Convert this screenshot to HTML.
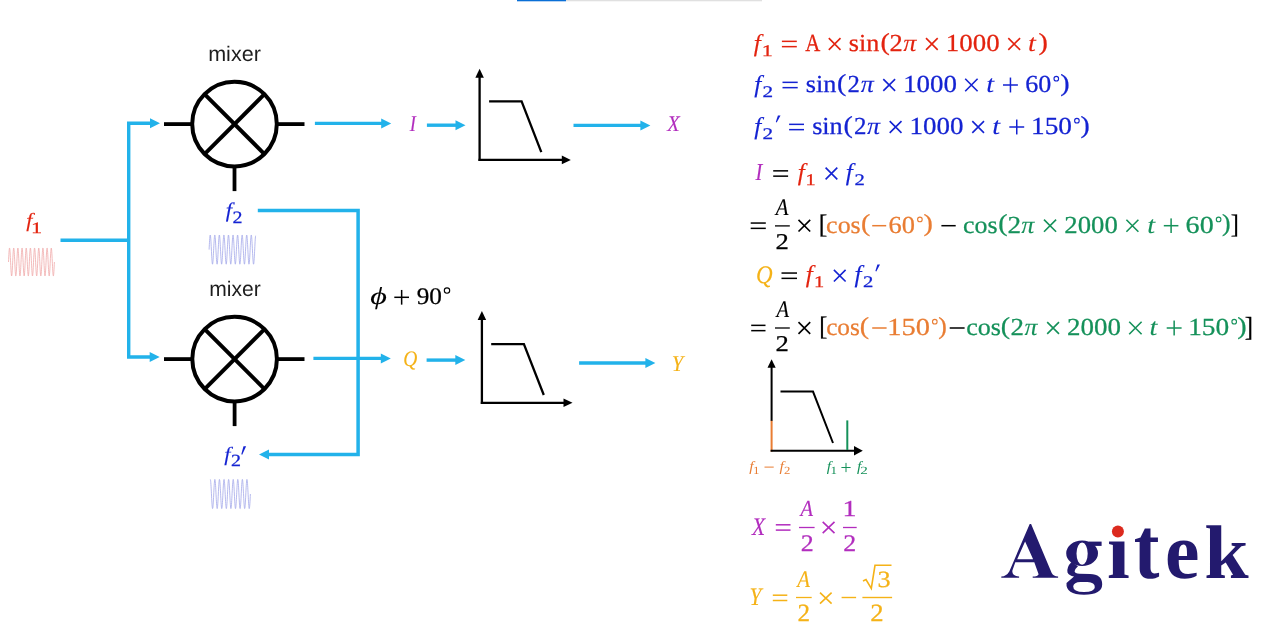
<!DOCTYPE html>
<html><head><meta charset="utf-8"><title>IQ demodulation</title>
<style>html,body{margin:0;padding:0;background:#fff;width:1267px;height:633px;overflow:hidden}svg{display:block;will-change:transform;text-rendering:geometricPrecision}</style>
</head><body>
<svg width="1267" height="633" viewBox="0 0 1267 633">
<rect width="1267" height="633" fill="#fff"/>
<rect x="517" y="0" width="49" height="1.3" fill="#0A6FD6"/>
<rect x="566" y="0" width="196" height="1.3" fill="#E0E0E0"/>
<polyline points="60.5,240.2 128.7,240.2" stroke="#22B2EA" stroke-width="3.4" fill="none"/>
<polyline points="151,123.2 128.7,123.2 128.7,357 151,357" stroke="#22B2EA" stroke-width="3.4" fill="none" stroke-linejoin="miter"/>
<polygon points="160,123.2 150,118.2 150,128.2" fill="#22B2EA"/>
<polygon points="159.7,357 149.7,352.0 149.7,362.0" fill="#22B2EA"/>
<line x1="314.9" y1="123.4" x2="382" y2="123.4" stroke="#22B2EA" stroke-width="3.4"/>
<polygon points="391.2,123.4 381.2,118.4 381.2,128.4" fill="#22B2EA"/>
<line x1="426.9" y1="125.2" x2="456" y2="125.2" stroke="#22B2EA" stroke-width="3.4"/>
<polygon points="465.5,125.2 455.5,120.2 455.5,130.2" fill="#22B2EA"/>
<line x1="573.5" y1="125.4" x2="641" y2="125.4" stroke="#22B2EA" stroke-width="3.4"/>
<polygon points="650.4,125.4 640.4,120.4 640.4,130.4" fill="#22B2EA"/>
<line x1="313.4" y1="358.4" x2="382" y2="358.4" stroke="#22B2EA" stroke-width="3.4"/>
<polygon points="390.8,358.4 380.8,353.4 380.8,363.4" fill="#22B2EA"/>
<line x1="426.6" y1="360.1" x2="456" y2="360.1" stroke="#22B2EA" stroke-width="3.4"/>
<polygon points="465.3,360.1 455.3,355.1 455.3,365.1" fill="#22B2EA"/>
<line x1="579.1" y1="363" x2="646" y2="363" stroke="#22B2EA" stroke-width="3.4"/>
<polygon points="655.4,363 645.4,358.0 645.4,368.0" fill="#22B2EA"/>
<polyline points="257.8,210.5 358.1,210.5 358.1,454.5 268,454.5" stroke="#22B2EA" stroke-width="3.5" fill="none"/>
<polygon points="259,454.5 269,449.5 269,459.5" fill="#22B2EA"/>
<circle cx="234.5" cy="124.1" r="42.3" stroke="#000" stroke-width="4" fill="none"/>
<line x1="204.3" y1="93.89999999999999" x2="264.7" y2="154.29999999999998" stroke="#000" stroke-width="4"/>
<line x1="204.3" y1="154.29999999999998" x2="264.7" y2="93.89999999999999" stroke="#000" stroke-width="4"/>
<line x1="164" y1="124.1" x2="192.5" y2="124.1" stroke="#000" stroke-width="3.8"/>
<line x1="276.5" y1="124.1" x2="304.5" y2="124.1" stroke="#000" stroke-width="3.8"/>
<line x1="234.5" y1="166.1" x2="234.5" y2="191.1" stroke="#000" stroke-width="3.8"/>
<circle cx="234.6" cy="359.1" r="42.3" stroke="#000" stroke-width="4" fill="none"/>
<line x1="204.4" y1="328.90000000000003" x2="264.8" y2="389.3" stroke="#000" stroke-width="4"/>
<line x1="204.4" y1="389.3" x2="264.8" y2="328.90000000000003" stroke="#000" stroke-width="4"/>
<line x1="164" y1="359.1" x2="192.6" y2="359.1" stroke="#000" stroke-width="3.8"/>
<line x1="276.6" y1="359.1" x2="304.5" y2="359.1" stroke="#000" stroke-width="3.8"/>
<line x1="234.6" y1="401.1" x2="234.6" y2="426.1" stroke="#000" stroke-width="3.8"/>
<line x1="479.6" y1="76.7" x2="479.6" y2="161.0" stroke="#000" stroke-width="2.3"/>
<polygon points="479.6,68.7 475.35,77.7 483.85,77.7" fill="#000"/>
<line x1="478.5" y1="159.9" x2="562.8" y2="159.9" stroke="#000" stroke-width="2.3"/>
<polygon points="570.8,159.9 561.8,155.6 561.8,164.20000000000002" fill="#000"/>
<polyline points="489.1,101.3 521.6,101.3 541.3,152.1" stroke="#000" stroke-width="2.3" fill="none"/>
<line x1="481.9" y1="319" x2="481.9" y2="403.90000000000003" stroke="#000" stroke-width="2.3"/>
<polygon points="481.9,311 477.65,320 486.15,320" fill="#000"/>
<line x1="480.79999999999995" y1="402.8" x2="564.5" y2="402.8" stroke="#000" stroke-width="2.3"/>
<polygon points="572.5,402.8 563.5,398.5 563.5,407.1" fill="#000"/>
<polyline points="491.2,344.2 523.9,344.2 543.8,395" stroke="#000" stroke-width="2.3" fill="none"/>
<polyline points="8.50,262.00 8.63,259.38 8.75,256.85 8.88,254.50 9.00,252.42 9.13,250.68 9.25,249.34 9.38,248.44 9.50,248.03 9.63,248.11 9.75,248.68 9.88,249.72 10.00,251.19 10.13,253.05 10.25,255.23 10.38,257.64 10.50,260.21 10.63,262.84 10.75,265.44 10.88,267.92 11.00,270.19 11.13,272.17 11.25,273.79 11.38,275.00 11.50,275.74 11.63,276.00 11.75,275.76 11.88,275.04 12.00,273.86 12.13,272.25 12.25,270.29 12.38,268.03 12.50,265.56 12.63,262.96 12.75,260.33 12.88,257.75 13.00,255.33 13.13,253.14 13.25,251.27 13.38,249.78 13.50,248.72 13.63,248.12 13.75,248.02 13.88,248.41 14.00,249.29 14.13,250.61 14.25,252.34 14.38,254.40 14.50,256.74 14.63,259.26 14.75,261.88 14.88,264.50 15.00,267.04 15.13,269.39 15.25,271.49 15.38,273.25 15.50,274.61 15.63,275.53 15.75,275.96 15.88,275.91 16.00,275.36 16.13,274.34 16.25,272.88 16.38,271.04 16.50,268.88 16.63,266.47 16.75,263.91 16.88,261.28 17.00,258.68 17.13,256.19 17.25,253.91 17.38,251.91 17.50,250.27 17.63,249.05 17.76,248.28 17.88,248.00 18.01,248.22 18.13,248.92 18.26,250.08 18.38,251.67 18.51,253.62 18.63,255.86 18.76,258.33 18.88,260.92 19.01,263.55 19.13,266.13 19.26,268.56 19.38,270.76 19.51,272.65 19.63,274.16 19.76,275.25 19.88,275.86 20.01,275.98 20.13,275.61 20.26,274.76 20.38,273.46 20.51,271.75 20.63,269.70 20.76,267.37 20.88,264.86 21.01,262.24 21.13,259.61 21.26,257.07 21.38,254.71 21.51,252.60 21.63,250.82 21.76,249.44 21.88,248.51 22.01,248.05 22.13,248.08 22.26,248.61 22.38,249.61 22.51,251.04 22.63,252.87 22.76,255.02 22.88,257.41 23.01,259.97 23.13,262.60 23.26,265.21 23.38,267.70 23.51,269.99 23.63,272.00 23.76,273.66 23.88,274.91 24.01,275.69 24.13,276.00 24.26,275.81 24.38,275.13 24.51,273.98 24.63,272.41 24.76,270.48 24.88,268.24 25.01,265.79 25.13,263.20 25.26,260.56 25.38,257.98 25.51,255.54 25.63,253.33 25.76,251.43 25.88,249.90 26.01,248.79 26.13,248.16 26.26,248.01 26.38,248.36 26.51,249.19 26.63,250.47 26.76,252.16 26.89,254.20 27.01,256.52 27.14,259.03 27.26,261.64 27.39,264.27 27.51,266.81 27.64,269.19 27.76,271.31 27.89,273.10 28.01,274.50 28.14,275.46 28.26,275.94 28.39,275.93 28.51,275.43 28.64,274.45 28.76,273.03 28.89,271.22 29.01,269.09 29.14,266.70 29.26,264.15 29.39,261.52 29.51,258.91 29.64,256.41 29.76,254.10 29.89,252.08 30.01,250.41 30.14,249.14 30.26,248.33 30.39,248.01 30.51,248.18 30.64,248.83 30.76,249.96 30.89,251.51 31.01,253.43 31.14,255.65 31.26,258.10 31.39,260.68 31.51,263.32 31.64,265.90 31.76,268.35 31.89,270.57 32.01,272.49 32.14,274.04 32.26,275.17 32.39,275.82 32.51,275.99 32.64,275.67 32.76,274.86 32.89,273.59 33.01,271.92 33.14,269.90 33.26,267.59 33.39,265.09 33.51,262.48 33.64,259.85 33.76,257.30 33.89,254.91 34.01,252.78 34.14,250.97 34.26,249.55 34.39,248.57 34.51,248.07 34.64,248.06 34.76,248.54 34.89,249.50 35.01,250.90 35.14,252.69 35.26,254.81 35.39,257.19 35.51,259.73 35.64,262.36 35.76,264.97 35.89,267.48 36.01,269.80 36.14,271.84 36.27,273.53 36.39,274.81 36.52,275.64 36.64,275.99 36.77,275.84 36.89,275.21 37.02,274.10 37.14,272.57 37.27,270.67 37.39,268.46 37.52,266.02 37.64,263.44 37.77,260.80 37.89,258.21 38.02,255.76 38.14,253.52 38.27,251.59 38.39,250.02 38.52,248.87 38.64,248.19 38.77,248.00 38.89,248.31 39.02,249.09 39.14,250.34 39.27,252.00 39.39,254.01 39.52,256.30 39.64,258.79 39.77,261.40 39.89,264.03 40.02,266.59 40.14,268.98 40.27,271.13 40.39,272.96 40.52,274.39 40.64,275.39 40.77,275.92 40.89,275.95 41.02,275.49 41.14,274.56 41.27,273.18 41.39,271.40 41.52,269.29 41.64,266.93 41.77,264.39 41.89,261.76 42.02,259.14 42.14,256.63 42.27,254.30 42.39,252.25 42.52,250.54 42.64,249.24 42.77,248.39 42.89,248.02 43.02,248.14 43.14,248.75 43.27,249.84 43.39,251.35 43.52,253.24 43.64,255.44 43.77,257.87 43.89,260.45 44.02,263.08 44.14,265.67 44.27,268.14 44.39,270.38 44.52,272.33 44.64,273.92 44.77,275.08 44.89,275.78 45.02,276.00 45.14,275.72 45.27,274.95 45.40,273.73 45.52,272.09 45.65,270.09 45.77,267.81 45.90,265.32 46.02,262.72 46.15,260.09 46.27,257.53 46.40,255.12 46.52,252.96 46.65,251.12 46.77,249.66 46.90,248.64 47.02,248.09 47.15,248.04 47.27,248.47 47.40,249.39 47.52,250.75 47.65,252.51 47.77,254.61 47.90,256.96 48.02,259.50 48.15,262.12 48.27,264.74 48.40,267.26 48.52,269.60 48.65,271.66 48.77,273.39 48.90,274.71 49.02,275.59 49.15,275.98 49.27,275.88 49.40,275.28 49.52,274.22 49.65,272.73 49.77,270.86 49.90,268.67 50.02,266.25 50.15,263.67 50.27,261.04 50.40,258.44 50.52,255.97 50.65,253.71 50.77,251.75 50.90,250.14 51.02,248.96 51.15,248.24 51.27,248.00 51.40,248.26 51.52,249.00 51.65,250.21 51.77,251.83 51.90,253.81 52.02,256.08 52.15,258.56 52.27,261.16 52.40,263.79 52.52,266.36 52.65,268.77 52.77,270.95 52.90,272.81 53.02,274.28 53.15,275.32 53.27,275.89 53.40,275.97 53.52,275.56 53.65,274.66 53.77,273.32 53.90,271.58 54.02,269.50 54.15,267.15 54.27,264.62 54.40,262.00" stroke="#F0AAAA" stroke-width="0.8" fill="none"/>
<polyline points="209.10,249.60 209.22,247.10 209.35,244.67 209.47,242.39 209.60,240.32 209.72,238.52 209.85,237.06 209.97,235.96 210.10,235.27 210.22,235.00 210.35,235.17 210.47,235.76 210.60,236.76 210.72,238.15 210.85,239.87 210.97,241.88 211.10,244.12 211.22,246.52 211.35,249.01 211.47,251.52 211.60,253.97 211.72,256.29 211.85,258.42 211.97,260.28 212.10,261.83 212.22,263.02 212.35,263.81 212.47,264.17 212.60,264.11 212.72,263.62 212.85,262.71 212.97,261.41 213.10,259.77 213.22,257.82 213.35,255.63 213.47,253.26 213.60,250.78 213.72,248.27 213.85,245.80 213.97,243.44 214.10,241.26 214.22,239.33 214.35,237.70 214.47,236.43 214.60,235.54 214.72,235.07 214.85,235.04 214.97,235.43 215.10,236.24 215.22,237.45 215.35,239.02 215.47,240.90 215.60,243.04 215.72,245.37 215.85,247.83 215.97,250.34 216.10,252.83 216.22,255.22 216.35,257.45 216.47,259.44 216.60,261.15 216.72,262.51 216.85,263.49 216.97,264.05 217.10,264.19 217.22,263.90 217.35,263.19 217.47,262.07 217.60,260.58 217.72,258.77 217.85,256.69 217.97,254.39 218.10,251.96 218.22,249.45 218.35,246.95 218.47,244.53 218.60,242.26 218.72,240.20 218.85,238.43 218.97,236.98 219.10,235.91 219.22,235.24 219.35,235.00 219.47,235.19 219.60,235.81 219.72,236.83 219.85,238.24 219.97,239.98 220.10,242.00 220.22,244.25 220.35,246.66 220.47,249.16 220.60,251.66 220.72,254.11 220.85,256.43 220.97,258.54 221.10,260.38 221.22,261.91 221.35,263.07 221.47,263.84 221.60,264.18 221.72,264.09 221.85,263.57 221.97,262.64 222.10,261.32 222.22,259.66 222.35,257.70 222.47,255.49 222.60,253.12 222.72,250.63 222.85,248.12 222.97,245.65 223.10,243.30 223.22,241.14 223.35,239.22 223.47,237.62 223.60,236.36 223.72,235.50 223.85,235.06 223.97,235.05 224.10,235.47 224.22,236.30 224.35,237.53 224.47,239.12 224.60,241.02 224.72,243.17 224.85,245.51 224.97,247.98 225.10,250.49 225.22,252.97 225.35,255.36 225.47,257.57 225.60,259.55 225.72,261.24 225.85,262.57 225.97,263.53 226.10,264.07 226.22,264.19 226.35,263.87 226.47,263.13 226.60,261.99 226.72,260.48 226.85,258.65 226.97,256.56 227.10,254.25 227.22,251.81 227.35,249.30 227.47,246.81 227.60,244.39 227.72,242.13 227.85,240.09 227.97,238.33 228.10,236.91 228.22,235.86 228.35,235.22 228.47,235.00 228.60,235.22 228.72,235.86 228.85,236.91 228.97,238.33 229.10,240.09 229.22,242.13 229.35,244.39 229.47,246.81 229.60,249.30 229.72,251.81 229.85,254.25 229.97,256.56 230.10,258.65 230.22,260.48 230.35,261.99 230.47,263.13 230.60,263.87 230.72,264.19 230.85,264.07 230.97,263.53 231.10,262.57 231.22,261.24 231.35,259.55 231.47,257.57 231.60,255.36 231.72,252.97 231.85,250.49 231.97,247.98 232.10,245.51 232.22,243.17 232.35,241.02 232.47,239.12 232.60,237.53 232.72,236.30 232.85,235.47 232.97,235.05 233.10,235.06 233.22,235.50 233.35,236.36 233.47,237.62 233.60,239.22 233.72,241.14 233.85,243.30 233.97,245.65 234.10,248.12 234.22,250.63 234.35,253.12 234.47,255.49 234.60,257.70 234.72,259.66 234.85,261.32 234.97,262.64 235.10,263.57 235.22,264.09 235.35,264.18 235.47,263.84 235.60,263.07 235.72,261.91 235.85,260.38 235.97,258.54 236.10,256.43 236.22,254.11 236.35,251.66 236.47,249.16 236.60,246.66 236.72,244.25 236.85,242.00 236.97,239.98 237.10,238.24 237.22,236.83 237.35,235.81 237.47,235.19 237.60,235.00 237.72,235.24 237.85,235.91 237.97,236.98 238.10,238.43 238.22,240.20 238.35,242.26 238.47,244.53 238.60,246.95 238.72,249.45 238.85,251.96 238.97,254.39 239.10,256.69 239.22,258.77 239.35,260.58 239.47,262.07 239.60,263.19 239.72,263.90 239.85,264.19 239.97,264.05 240.10,263.49 240.22,262.51 240.35,261.15 240.47,259.44 240.60,257.45 240.72,255.22 240.85,252.83 240.97,250.34 241.10,247.83 241.22,245.37 241.35,243.04 241.47,240.90 241.60,239.02 241.72,237.45 241.85,236.24 241.97,235.43 242.10,235.04 242.22,235.07 242.35,235.54 242.47,236.43 242.60,237.70 242.72,239.33 242.85,241.26 242.97,243.44 243.10,245.80 243.22,248.27 243.35,250.78 243.47,253.26 243.60,255.63 243.72,257.82 243.85,259.77 243.97,261.41 244.10,262.71 244.22,263.62 244.35,264.11 244.47,264.17 244.60,263.81 244.72,263.02 244.85,261.83 244.97,260.28 245.10,258.42 245.22,256.29 245.35,253.97 245.47,251.52 245.60,249.01 245.72,246.52 245.85,244.12 245.97,241.88 246.10,239.87 246.22,238.15 246.35,236.76 246.47,235.76 246.60,235.17 246.72,235.00 246.85,235.27 246.97,235.96 247.10,237.06 247.22,238.52 247.35,240.32 247.47,242.39 247.60,244.67 247.72,247.10 247.85,249.60 247.97,252.10 248.10,254.53 248.22,256.81 248.35,258.88 248.47,260.68 248.60,262.14 248.72,263.24 248.85,263.93 248.97,264.20 249.10,264.03 249.22,263.44 249.35,262.44 249.47,261.05 249.60,259.33 249.72,257.32 249.85,255.08 249.97,252.68 250.10,250.19 250.22,247.68 250.35,245.23 250.47,242.91 250.60,240.78 250.72,238.92 250.85,237.37 250.97,236.18 251.10,235.39 251.22,235.03 251.35,235.09 251.47,235.58 251.60,236.49 251.72,237.79 251.85,239.43 251.97,241.38 252.10,243.57 252.22,245.94 252.35,248.42 252.47,250.93 252.60,253.40 252.72,255.76 252.85,257.94 252.97,259.87 253.10,261.50 253.22,262.77 253.35,263.66 253.47,264.13 253.60,264.16 253.72,263.77 253.85,262.96 253.97,261.75 254.10,260.18 254.22,258.30 254.35,256.16 254.47,253.83 254.60,251.37 254.72,248.86 254.85,246.37 254.97,243.98 255.10,241.75 255.22,239.76 255.35,238.05 255.47,236.69 255.60,235.71" stroke="#A3A8EA" stroke-width="0.8" fill="none"/>
<polyline points="210.30,479.40 210.43,479.61 210.55,480.25 210.68,481.30 210.80,482.71 210.93,484.46 211.05,486.49 211.18,488.75 211.30,491.15 211.43,493.64 211.55,496.14 211.68,498.58 211.80,500.88 211.93,502.98 212.05,504.82 212.18,506.33 212.31,507.49 212.43,508.25 212.56,508.58 212.68,508.49 212.81,507.97 212.93,507.04 213.06,505.73 213.18,504.07 213.31,502.11 213.43,499.92 213.56,497.55 213.68,495.07 213.81,492.57 213.93,490.11 214.06,487.76 214.18,485.59 214.31,483.68 214.44,482.06 214.56,480.80 214.69,479.93 214.81,479.47 214.94,479.44 215.06,479.84 215.19,480.65 215.31,481.86 215.44,483.43 215.56,485.30 215.69,487.44 215.81,489.76 215.94,492.21 216.06,494.72 216.19,497.20 216.31,499.59 216.44,501.81 216.57,503.80 216.69,505.51 216.82,506.88 216.94,507.86 217.07,508.44 217.19,508.60 217.32,508.32 217.44,507.62 217.57,506.52 217.69,505.06 217.82,503.26 217.94,501.20 218.07,498.92 218.19,496.50 218.32,494.00 218.45,491.50 218.57,489.08 218.70,486.80 218.82,484.74 218.95,482.94 219.07,481.48 219.20,480.38 219.32,479.68 219.45,479.40 219.57,479.56 219.70,480.14 219.82,481.12 219.95,482.49 220.07,484.20 220.20,486.19 220.33,488.41 220.45,490.80 220.58,493.28 220.70,495.79 220.83,498.24 220.95,500.56 221.08,502.70 221.20,504.57 221.33,506.14 221.45,507.35 221.58,508.16 221.70,508.56 221.83,508.53 221.95,508.07 222.08,507.20 222.20,505.94 222.33,504.32 222.46,502.41 222.58,500.24 222.71,497.89 222.83,495.43 222.96,492.93 223.08,490.45 223.21,488.08 223.33,485.89 223.46,483.93 223.58,482.27 223.71,480.96 223.83,480.03 223.96,479.51 224.08,479.42 224.21,479.75 224.34,480.51 224.46,481.67 224.59,483.18 224.71,485.02 224.84,487.12 224.96,489.42 225.09,491.86 225.21,494.36 225.34,496.85 225.46,499.25 225.59,501.51 225.71,503.54 225.84,505.29 225.96,506.70 226.09,507.75 226.21,508.39 226.34,508.60 226.47,508.39 226.59,507.75 226.72,506.70 226.84,505.29 226.97,503.54 227.09,501.51 227.22,499.25 227.34,496.85 227.47,494.36 227.59,491.86 227.72,489.42 227.84,487.12 227.97,485.02 228.09,483.18 228.22,481.67 228.34,480.51 228.47,479.75 228.60,479.42 228.72,479.51 228.85,480.03 228.97,480.96 229.10,482.27 229.22,483.93 229.35,485.89 229.47,488.08 229.60,490.45 229.72,492.93 229.85,495.43 229.97,497.89 230.10,500.24 230.22,502.41 230.35,504.32 230.48,505.94 230.60,507.20 230.73,508.07 230.85,508.53 230.98,508.56 231.10,508.16 231.23,507.35 231.35,506.14 231.48,504.57 231.60,502.70 231.73,500.56 231.85,498.24 231.98,495.79 232.10,493.28 232.23,490.80 232.36,488.41 232.48,486.19 232.61,484.20 232.73,482.49 232.86,481.12 232.98,480.14 233.11,479.56 233.23,479.40 233.36,479.68 233.48,480.38 233.61,481.48 233.73,482.94 233.86,484.74 233.98,486.80 234.11,489.08 234.23,491.50 234.36,494.00 234.49,496.50 234.61,498.92 234.74,501.20 234.86,503.26 234.99,505.06 235.11,506.52 235.24,507.62 235.36,508.32 235.49,508.60 235.61,508.44 235.74,507.86 235.86,506.88 235.99,505.51 236.11,503.80 236.24,501.81 236.37,499.59 236.49,497.20 236.62,494.72 236.74,492.21 236.87,489.76 236.99,487.44 237.12,485.30 237.24,483.43 237.37,481.86 237.49,480.65 237.62,479.84 237.74,479.44 237.87,479.47 237.99,479.93 238.12,480.80 238.24,482.06 238.37,483.68 238.50,485.59 238.62,487.76 238.75,490.11 238.87,492.57 239.00,495.07 239.12,497.55 239.25,499.92 239.37,502.11 239.50,504.07 239.62,505.73 239.75,507.04 239.87,507.97 240.00,508.49 240.12,508.58 240.25,508.25 240.38,507.49 240.50,506.33 240.63,504.82 240.75,502.98 240.88,500.88 241.00,498.58 241.13,496.14 241.25,493.64 241.38,491.15 241.50,488.75 241.63,486.49 241.75,484.46 241.88,482.71 242.00,481.30 242.13,480.25 242.25,479.61 242.38,479.40 242.51,479.61 242.63,480.25 242.76,481.30 242.88,482.71 243.01,484.46 243.13,486.49 243.26,488.75 243.38,491.15 243.51,493.64 243.63,496.14 243.76,498.58 243.88,500.88 244.01,502.98 244.13,504.82 244.26,506.33 244.38,507.49 244.51,508.25 244.64,508.58 244.76,508.49 244.89,507.97 245.01,507.04 245.14,505.73 245.26,504.07 245.39,502.11 245.51,499.92 245.64,497.55 245.76,495.07 245.89,492.57 246.01,490.11 246.14,487.76 246.26,485.59 246.39,483.68 246.52,482.06 246.64,480.80 246.77,479.93 246.89,479.47 247.02,479.44 247.14,479.84 247.27,480.65 247.39,481.86 247.52,483.43 247.64,485.30 247.77,487.44 247.89,489.76 248.02,492.21 248.14,494.72 248.27,497.20 248.40,499.59 248.52,501.81 248.65,503.80 248.77,505.51 248.90,506.88 249.02,507.86 249.15,508.44 249.27,508.60 249.40,508.32 249.52,507.62 249.65,506.52 249.77,505.06 249.90,503.26 250.02,501.20 250.15,498.92 250.27,496.50 250.40,494.00" stroke="#A3A8EA" stroke-width="0.8" fill="none"/>
<text transform="translate(208.17,60.60) scale(1.017,1)" font-family='"Liberation Sans", sans-serif' font-style="normal" font-weight="normal" font-size="21.20" fill="#1E1E1E" >mixer</text>
<text transform="translate(209.30,296.00) scale(0.995,1)" font-family='"Liberation Sans", sans-serif' font-style="normal" font-weight="normal" font-size="21.20" fill="#1E1E1E" >mixer</text>
<text transform="translate(26.26,227.21) scale(1.100,1)" font-family='"Liberation Serif", serif' font-style="italic" font-weight="normal" font-size="20.17" fill="#E3230F" stroke="#E3230F" stroke-width="0.12" >f</text>
<text transform="translate(31.04,232.50) scale(1.400,1)" font-family='"Liberation Serif", serif' font-style="normal" font-weight="normal" font-size="15.91" fill="#E3230F" stroke="#E3230F" stroke-width="0.25" >1</text>
<text transform="translate(225.74,216.59) scale(1.100,1)" font-family='"Liberation Serif", serif' font-style="italic" font-weight="normal" font-size="20.72" fill="#1423D2" stroke="#1423D2" stroke-width="0.12" >f</text>
<text transform="translate(232.62,222.50) scale(1.149,1)" font-family='"Liberation Serif", serif' font-style="normal" font-weight="normal" font-size="17.37" fill="#1423D2" stroke="#1423D2" stroke-width="0.25" >2</text>
<text transform="translate(224.24,460.68) scale(1.100,1)" font-family='"Liberation Serif", serif' font-style="italic" font-weight="normal" font-size="20.28" fill="#1423D2" stroke="#1423D2" stroke-width="0.12" >f</text>
<text transform="translate(231.12,466.30) scale(1.169,1)" font-family='"Liberation Serif", serif' font-style="normal" font-weight="normal" font-size="17.07" fill="#1423D2" stroke="#1423D2" stroke-width="0.25" >2</text>
<text transform="translate(409.87,130.60) scale(0.824,1)" font-family='"Liberation Serif", serif' font-style="italic" font-weight="normal" font-size="22.60" fill="#B22DBE" stroke="#B22DBE" stroke-width="0.12" >I</text>
<text transform="translate(667.28,130.70) scale(0.909,1)" font-family='"Liberation Serif", serif' font-style="italic" font-weight="normal" font-size="22.45" fill="#B22DBE" stroke="#B22DBE" stroke-width="0.12" >X</text>
<text transform="translate(403.13,365.92) scale(0.880,1)" font-family='"Liberation Serif", serif' font-style="italic" font-weight="normal" font-size="22.08" fill="#F5B217" stroke="#F5B217" stroke-width="0.12" >Q</text>
<text transform="translate(671.81,371.20) scale(0.918,1)" font-family='"Liberation Serif", serif' font-style="italic" font-weight="normal" font-size="22.60" fill="#F5B217" stroke="#F5B217" stroke-width="0.12" >Y</text>
<text transform="translate(370.16,303.81) scale(1.315,1)" font-family='"Liberation Serif", serif' font-style="italic" font-weight="normal" font-size="24.37" fill="#000" stroke="#000" stroke-width="0.12" >ϕ</text>
<text transform="translate(416.69,303.67) scale(1.059,1)" font-family='"Liberation Serif", serif' font-style="normal" font-weight="normal" font-size="23.86" fill="#000" stroke="#000" stroke-width="0.25" >90</text>
<text transform="translate(753.83,50.67) scale(1.050,1)" font-family='"Liberation Serif", serif' font-style="italic" font-weight="normal" font-size="24.10" fill="#E3230F" stroke="#E3230F" stroke-width="0.12" >f</text>
<text transform="translate(761.75,55.70) scale(1.367,1)" font-family='"Liberation Serif", serif' font-style="normal" font-weight="normal" font-size="16.21" fill="#E3230F" stroke="#E3230F" stroke-width="0.25" >1</text>
<rect x="781.90" y="40.60" width="14.90" height="1.5" fill="#E3230F"/>
<rect x="781.90" y="45.90" width="14.90" height="1.5" fill="#E3230F"/>
<text transform="translate(805.20,50.80) scale(0.851,1)" font-family='"Liberation Serif", serif' font-style="normal" font-weight="normal" font-size="24.50" fill="#E3230F" stroke="#E3230F" stroke-width="0.25" >A</text>
<path d="M828.80,38.15L840.50,49.85M828.80,49.85L840.50,38.15" stroke="#E3230F" stroke-width="1.6" fill="none"/>
<text transform="translate(848.73,50.80) scale(1.066,1)" font-family='"Liberation Serif", serif' font-style="normal" font-weight="normal" font-size="24.50" fill="#E3230F" stroke="#E3230F" stroke-width="0.25" >sin</text>
<text transform="translate(880.47,49.51) scale(1.150,1)" font-family='"Liberation Serif", serif' font-style="normal" font-weight="normal" font-size="24.37" fill="#E3230F" stroke="#E3230F" stroke-width="0.25" >(</text>
<text transform="translate(889.54,50.80) scale(1.079,1)" font-family='"Liberation Serif", serif' font-style="normal" font-weight="normal" font-size="24.50" fill="#E3230F" stroke="#E3230F" stroke-width="0.25" >2</text>
<text transform="translate(903.26,50.80) scale(1.070,1)" font-family='"Liberation Serif", serif' font-style="italic" font-weight="normal" font-size="24.50" fill="#E3230F" stroke="#E3230F" stroke-width="0.12" >π</text>
<path d="M926.00,38.15L937.70,49.85M926.00,49.85L937.70,38.15" stroke="#E3230F" stroke-width="1.6" fill="none"/>
<text transform="translate(945.84,50.80) scale(1.098,1)" font-family='"Liberation Serif", serif' font-style="normal" font-weight="normal" font-size="24.50" fill="#E3230F" stroke="#E3230F" stroke-width="0.25" >1000</text>
<path d="M1008.30,38.10L1020.10,49.90M1008.30,49.90L1020.10,38.10" stroke="#E3230F" stroke-width="1.6" fill="none"/>
<text transform="translate(1027.88,50.80) scale(1.150,1)" font-family='"Liberation Serif", serif' font-style="italic" font-weight="normal" font-size="24.50" fill="#E3230F" stroke="#E3230F" stroke-width="0.12" >t</text>
<text transform="translate(1038.45,49.51) scale(1.150,1)" font-family='"Liberation Serif", serif' font-style="normal" font-weight="normal" font-size="24.37" fill="#E3230F" stroke="#E3230F" stroke-width="0.25" >)</text>
<text transform="translate(754.13,91.67) scale(1.050,1)" font-family='"Liberation Serif", serif' font-style="italic" font-weight="normal" font-size="24.10" fill="#1423D2" stroke="#1423D2" stroke-width="0.12" >f</text>
<text transform="translate(762.57,96.70) scale(1.312,1)" font-family='"Liberation Serif", serif' font-style="normal" font-weight="normal" font-size="16.16" fill="#1423D2" stroke="#1423D2" stroke-width="0.25" >2</text>
<rect x="782.50" y="81.60" width="15.20" height="1.5" fill="#1423D2"/>
<rect x="782.50" y="86.90" width="15.20" height="1.5" fill="#1423D2"/>
<text transform="translate(805.73,91.80) scale(1.069,1)" font-family='"Liberation Serif", serif' font-style="normal" font-weight="normal" font-size="24.50" fill="#1423D2" stroke="#1423D2" stroke-width="0.25" >sin</text>
<text transform="translate(837.12,90.51) scale(1.150,1)" font-family='"Liberation Serif", serif' font-style="normal" font-weight="normal" font-size="24.37" fill="#1423D2" stroke="#1423D2" stroke-width="0.25" >(</text>
<text transform="translate(847.61,91.80) scale(1.008,1)" font-family='"Liberation Serif", serif' font-style="normal" font-weight="normal" font-size="24.50" fill="#1423D2" stroke="#1423D2" stroke-width="0.25" >2</text>
<text transform="translate(860.66,91.80) scale(1.063,1)" font-family='"Liberation Serif", serif' font-style="italic" font-weight="normal" font-size="24.50" fill="#1423D2" stroke="#1423D2" stroke-width="0.12" >π</text>
<path d="M883.30,79.10L895.10,90.90M883.30,90.90L895.10,79.10" stroke="#1423D2" stroke-width="1.6" fill="none"/>
<text transform="translate(903.13,91.80) scale(1.100,1)" font-family='"Liberation Serif", serif' font-style="normal" font-weight="normal" font-size="24.50" fill="#1423D2" stroke="#1423D2" stroke-width="0.25" >1000</text>
<path d="M965.20,78.80L977.60,91.20M965.20,91.20L977.60,78.80" stroke="#1423D2" stroke-width="1.6" fill="none"/>
<text transform="translate(986.18,91.80) scale(1.150,1)" font-family='"Liberation Serif", serif' font-style="italic" font-weight="normal" font-size="24.50" fill="#1423D2" stroke="#1423D2" stroke-width="0.12" >t</text>
<rect x="1003.00" y="84.25" width="14.90" height="1.5" fill="#1423D2"/>
<rect x="1009.70" y="77.55" width="1.5" height="14.90" fill="#1423D2"/>
<text transform="translate(1025.18,91.80) scale(1.066,1)" font-family='"Liberation Serif", serif' font-style="normal" font-weight="normal" font-size="24.50" fill="#1423D2" stroke="#1423D2" stroke-width="0.25" >60</text>
<circle cx="1056.30" cy="78.70" r="2.3" stroke="#1423D2" stroke-width="1.1" fill="none"/>
<text transform="translate(1060.30,90.51) scale(1.150,1)" font-family='"Liberation Serif", serif' font-style="normal" font-weight="normal" font-size="24.37" fill="#1423D2" stroke="#1423D2" stroke-width="0.25" >)</text>
<text transform="translate(754.13,133.67) scale(1.050,1)" font-family='"Liberation Serif", serif' font-style="italic" font-weight="normal" font-size="24.10" fill="#1423D2" stroke="#1423D2" stroke-width="0.12" >f</text>
<text transform="translate(762.57,138.70) scale(1.312,1)" font-family='"Liberation Serif", serif' font-style="normal" font-weight="normal" font-size="16.16" fill="#1423D2" stroke="#1423D2" stroke-width="0.25" >2</text>
<polygon points="777.90,115.50 780.50,115.50 776.70,122.50 775.80,121.90" fill="#1423D2"/>
<rect x="789.10" y="123.60" width="14.90" height="1.5" fill="#1423D2"/>
<rect x="789.10" y="128.90" width="14.90" height="1.5" fill="#1423D2"/>
<text transform="translate(812.13,133.80) scale(1.069,1)" font-family='"Liberation Serif", serif' font-style="normal" font-weight="normal" font-size="24.50" fill="#1423D2" stroke="#1423D2" stroke-width="0.25" >sin</text>
<text transform="translate(843.52,132.51) scale(1.150,1)" font-family='"Liberation Serif", serif' font-style="normal" font-weight="normal" font-size="24.37" fill="#1423D2" stroke="#1423D2" stroke-width="0.25" >(</text>
<text transform="translate(853.90,133.80) scale(1.018,1)" font-family='"Liberation Serif", serif' font-style="normal" font-weight="normal" font-size="24.50" fill="#1423D2" stroke="#1423D2" stroke-width="0.25" >2</text>
<text transform="translate(867.06,133.80) scale(1.063,1)" font-family='"Liberation Serif", serif' font-style="italic" font-weight="normal" font-size="24.50" fill="#1423D2" stroke="#1423D2" stroke-width="0.12" >π</text>
<path d="M889.70,121.10L901.50,132.90M889.70,132.90L901.50,121.10" stroke="#1423D2" stroke-width="1.6" fill="none"/>
<text transform="translate(909.43,133.80) scale(1.102,1)" font-family='"Liberation Serif", serif' font-style="normal" font-weight="normal" font-size="24.50" fill="#1423D2" stroke="#1423D2" stroke-width="0.25" >1000</text>
<path d="M972.30,121.15L984.00,132.85M972.30,132.85L984.00,121.15" stroke="#1423D2" stroke-width="1.6" fill="none"/>
<text transform="translate(992.18,133.80) scale(1.150,1)" font-family='"Liberation Serif", serif' font-style="italic" font-weight="normal" font-size="24.50" fill="#1423D2" stroke="#1423D2" stroke-width="0.12" >t</text>
<rect x="1009.30" y="126.25" width="14.90" height="1.5" fill="#1423D2"/>
<rect x="1016.00" y="119.55" width="1.5" height="14.90" fill="#1423D2"/>
<text transform="translate(1031.00,133.80) scale(1.114,1)" font-family='"Liberation Serif", serif' font-style="normal" font-weight="normal" font-size="24.50" fill="#1423D2" stroke="#1423D2" stroke-width="0.25" >150</text>
<circle cx="1076.90" cy="120.70" r="2.3" stroke="#1423D2" stroke-width="1.1" fill="none"/>
<text transform="translate(1080.61,132.51) scale(1.134,1)" font-family='"Liberation Serif", serif' font-style="normal" font-weight="normal" font-size="24.37" fill="#1423D2" stroke="#1423D2" stroke-width="0.25" >)</text>
<text transform="translate(755.58,180.40) scale(0.838,1)" font-family='"Liberation Serif", serif' font-style="italic" font-weight="normal" font-size="24.44" fill="#B22DBE" stroke="#B22DBE" stroke-width="0.12" >I</text>
<rect x="773.20" y="170.10" width="14.90" height="1.5" fill="#000"/>
<rect x="773.20" y="175.40" width="14.90" height="1.5" fill="#000"/>
<text transform="translate(797.63,180.17) scale(1.050,1)" font-family='"Liberation Serif", serif' font-style="italic" font-weight="normal" font-size="24.10" fill="#E3230F" stroke="#E3230F" stroke-width="0.12" >f</text>
<text transform="translate(805.60,185.20) scale(1.262,1)" font-family='"Liberation Serif", serif' font-style="normal" font-weight="normal" font-size="16.21" fill="#E3230F" stroke="#E3230F" stroke-width="0.25" >1</text>
<path d="M825.60,167.65L837.30,179.35M825.60,179.35L837.30,167.65" stroke="#1423D2" stroke-width="1.6" fill="none"/>
<text transform="translate(845.63,180.17) scale(1.050,1)" font-family='"Liberation Serif", serif' font-style="italic" font-weight="normal" font-size="24.10" fill="#1423D2" stroke="#1423D2" stroke-width="0.12" >f</text>
<text transform="translate(854.59,185.20) scale(1.281,1)" font-family='"Liberation Serif", serif' font-style="normal" font-weight="normal" font-size="16.16" fill="#1423D2" stroke="#1423D2" stroke-width="0.25" >2</text>
<rect x="750.70" y="222.30" width="15.10" height="1.5" fill="#000"/>
<rect x="750.70" y="227.60" width="15.10" height="1.5" fill="#000"/>
<rect x="775" y="225.25" width="14.799999999999955" height="1.3" fill="#000"/>
<text transform="translate(775.84,214.60) scale(0.868,1)" font-family='"Liberation Serif", serif' font-style="italic" font-weight="normal" font-size="23.93" fill="#000" stroke="#000" stroke-width="0.12" >A</text>
<text transform="translate(775.43,249.00) scale(1.186,1)" font-family='"Liberation Serif", serif' font-style="normal" font-weight="normal" font-size="22.50" fill="#000" stroke="#000" stroke-width="0.25" >2</text>
<path d="M798.50,219.85L810.20,231.55M798.50,231.55L810.20,219.85" stroke="#000" stroke-width="1.6" fill="none"/>
<text transform="translate(818.80,233.13) scale(0.959,1)" font-family='"Liberation Serif", serif' font-style="normal" font-weight="normal" font-size="26.70" fill="#000" stroke="#000" stroke-width="0.25" >[</text>
<text transform="translate(826.11,232.50) scale(1.060,1)" font-family='"Liberation Serif", serif' font-style="normal" font-weight="normal" font-size="24.50" fill="#E97D33" stroke="#E97D33" stroke-width="0.25" >cos</text>
<text transform="translate(860.97,231.21) scale(1.150,1)" font-family='"Liberation Serif", serif' font-style="normal" font-weight="normal" font-size="24.37" fill="#E97D33" stroke="#E97D33" stroke-width="0.25" >(</text>
<rect x="872.20" y="224.95" width="14.00" height="1.5" fill="#E97D33"/>
<text transform="translate(888.46,232.50) scale(1.079,1)" font-family='"Liberation Serif", serif' font-style="normal" font-weight="normal" font-size="24.50" fill="#E97D33" stroke="#E97D33" stroke-width="0.25" >60</text>
<circle cx="919.90" cy="219.40" r="2.3" stroke="#E97D33" stroke-width="1.1" fill="none"/>
<text transform="translate(923.45,231.21) scale(1.150,1)" font-family='"Liberation Serif", serif' font-style="normal" font-weight="normal" font-size="24.37" fill="#E97D33" stroke="#E97D33" stroke-width="0.25" >)</text>
<rect x="941.40" y="224.95" width="14.30" height="1.5" fill="#000"/>
<text transform="translate(963.11,232.50) scale(1.057,1)" font-family='"Liberation Serif", serif' font-style="normal" font-weight="normal" font-size="24.50" fill="#15915A" stroke="#15915A" stroke-width="0.25" >cos</text>
<text transform="translate(998.37,231.21) scale(1.150,1)" font-family='"Liberation Serif", serif' font-style="normal" font-weight="normal" font-size="24.37" fill="#15915A" stroke="#15915A" stroke-width="0.25" >(</text>
<text transform="translate(1007.61,232.50) scale(1.110,1)" font-family='"Liberation Serif", serif' font-style="normal" font-weight="normal" font-size="24.50" fill="#15915A" stroke="#15915A" stroke-width="0.25" >2</text>
<text transform="translate(1021.26,232.50) scale(1.063,1)" font-family='"Liberation Serif", serif' font-style="italic" font-weight="normal" font-size="24.50" fill="#15915A" stroke="#15915A" stroke-width="0.12" >π</text>
<path d="M1044.00,219.65L1056.10,231.75M1044.00,231.75L1056.10,219.65" stroke="#15915A" stroke-width="1.6" fill="none"/>
<text transform="translate(1064.32,232.50) scale(1.092,1)" font-family='"Liberation Serif", serif' font-style="normal" font-weight="normal" font-size="24.50" fill="#15915A" stroke="#15915A" stroke-width="0.25" >2000</text>
<path d="M1126.40,219.70L1138.40,231.70M1126.40,231.70L1138.40,219.70" stroke="#15915A" stroke-width="1.6" fill="none"/>
<text transform="translate(1147.13,232.50) scale(1.150,1)" font-family='"Liberation Serif", serif' font-style="italic" font-weight="normal" font-size="24.50" fill="#15915A" stroke="#15915A" stroke-width="0.12" >t</text>
<rect x="1163.80" y="224.95" width="14.60" height="1.5" fill="#15915A"/>
<rect x="1170.35" y="218.40" width="1.5" height="14.60" fill="#15915A"/>
<text transform="translate(1185.59,232.50) scale(1.146,1)" font-family='"Liberation Serif", serif' font-style="normal" font-weight="normal" font-size="24.50" fill="#15915A" stroke="#15915A" stroke-width="0.25" >60</text>
<circle cx="1218.60" cy="219.40" r="2.3" stroke="#15915A" stroke-width="1.1" fill="none"/>
<text transform="translate(1221.97,231.21) scale(1.054,1)" font-family='"Liberation Serif", serif' font-style="normal" font-weight="normal" font-size="24.37" fill="#15915A" stroke="#15915A" stroke-width="0.25" >)</text>
<text transform="translate(1230.72,233.13) scale(0.908,1)" font-family='"Liberation Serif", serif' font-style="normal" font-weight="normal" font-size="26.70" fill="#000" stroke="#000" stroke-width="0.25" >]</text>
<text transform="translate(755.93,282.87) scale(0.902,1)" font-family='"Liberation Serif", serif' font-style="italic" font-weight="normal" font-size="25.48" fill="#F5B217" stroke="#F5B217" stroke-width="0.12" >Q</text>
<rect x="781.50" y="272.30" width="15.50" height="1.5" fill="#000"/>
<rect x="781.50" y="277.60" width="15.50" height="1.5" fill="#000"/>
<text transform="translate(805.83,282.37) scale(1.050,1)" font-family='"Liberation Serif", serif' font-style="italic" font-weight="normal" font-size="24.10" fill="#E3230F" stroke="#E3230F" stroke-width="0.12" >f</text>
<text transform="translate(813.90,287.40) scale(1.262,1)" font-family='"Liberation Serif", serif' font-style="normal" font-weight="normal" font-size="16.21" fill="#E3230F" stroke="#E3230F" stroke-width="0.25" >1</text>
<path d="M833.90,269.85L845.60,281.55M833.90,281.55L845.60,269.85" stroke="#1423D2" stroke-width="1.6" fill="none"/>
<text transform="translate(854.43,282.37) scale(1.050,1)" font-family='"Liberation Serif", serif' font-style="italic" font-weight="normal" font-size="24.10" fill="#1423D2" stroke="#1423D2" stroke-width="0.12" >f</text>
<text transform="translate(862.89,287.40) scale(1.281,1)" font-family='"Liberation Serif", serif' font-style="normal" font-weight="normal" font-size="16.16" fill="#1423D2" stroke="#1423D2" stroke-width="0.25" >2</text>
<polygon points="877.40,264.50 880.00,264.50 876.30,271.50 875.40,270.90" fill="#1423D2"/>
<rect x="751.20" y="324.60" width="14.30" height="1.5" fill="#000"/>
<rect x="751.20" y="329.90" width="14.30" height="1.5" fill="#000"/>
<rect x="775" y="327.35" width="14.799999999999955" height="1.3" fill="#000"/>
<text transform="translate(776.52,316.70) scale(0.856,1)" font-family='"Liberation Serif", serif' font-style="italic" font-weight="normal" font-size="23.93" fill="#000" stroke="#000" stroke-width="0.12" >A</text>
<text transform="translate(775.43,351.10) scale(1.186,1)" font-family='"Liberation Serif", serif' font-style="normal" font-weight="normal" font-size="22.50" fill="#000" stroke="#000" stroke-width="0.25" >2</text>
<path d="M798.50,322.15L810.20,333.85M798.50,333.85L810.20,322.15" stroke="#000" stroke-width="1.6" fill="none"/>
<text transform="translate(819.20,335.43) scale(0.908,1)" font-family='"Liberation Serif", serif' font-style="normal" font-weight="normal" font-size="26.70" fill="#000" stroke="#000" stroke-width="0.25" >[</text>
<text transform="translate(826.13,334.80) scale(1.034,1)" font-family='"Liberation Serif", serif' font-style="normal" font-weight="normal" font-size="24.50" fill="#E97D33" stroke="#E97D33" stroke-width="0.25" >cos</text>
<text transform="translate(859.67,333.51) scale(1.150,1)" font-family='"Liberation Serif", serif' font-style="normal" font-weight="normal" font-size="24.37" fill="#E97D33" stroke="#E97D33" stroke-width="0.25" >(</text>
<rect x="872.20" y="327.25" width="14.40" height="1.5" fill="#E97D33"/>
<text transform="translate(887.20,334.80) scale(1.161,1)" font-family='"Liberation Serif", serif' font-style="normal" font-weight="normal" font-size="24.50" fill="#E97D33" stroke="#E97D33" stroke-width="0.25" >150</text>
<circle cx="934.80" cy="321.70" r="2.3" stroke="#E97D33" stroke-width="1.1" fill="none"/>
<text transform="translate(938.17,333.51) scale(1.054,1)" font-family='"Liberation Serif", serif' font-style="normal" font-weight="normal" font-size="24.37" fill="#E97D33" stroke="#E97D33" stroke-width="0.25" >)</text>
<rect x="949.70" y="327.25" width="14.90" height="1.5" fill="#000"/>
<text transform="translate(966.21,334.80) scale(1.064,1)" font-family='"Liberation Serif", serif' font-style="normal" font-weight="normal" font-size="24.50" fill="#15915A" stroke="#15915A" stroke-width="0.25" >cos</text>
<text transform="translate(1000.87,333.51) scale(1.150,1)" font-family='"Liberation Serif", serif' font-style="normal" font-weight="normal" font-size="24.37" fill="#15915A" stroke="#15915A" stroke-width="0.25" >(</text>
<text transform="translate(1010.62,334.80) scale(1.100,1)" font-family='"Liberation Serif", serif' font-style="normal" font-weight="normal" font-size="24.50" fill="#15915A" stroke="#15915A" stroke-width="0.25" >2</text>
<text transform="translate(1024.46,334.80) scale(1.055,1)" font-family='"Liberation Serif", serif' font-style="italic" font-weight="normal" font-size="24.50" fill="#15915A" stroke="#15915A" stroke-width="0.12" >π</text>
<path d="M1047.20,322.10L1059.00,333.90M1047.20,333.90L1059.00,322.10" stroke="#15915A" stroke-width="1.6" fill="none"/>
<text transform="translate(1067.01,334.80) scale(1.102,1)" font-family='"Liberation Serif", serif' font-style="normal" font-weight="normal" font-size="24.50" fill="#15915A" stroke="#15915A" stroke-width="0.25" >2000</text>
<path d="M1129.20,321.80L1141.60,334.20M1129.20,334.20L1141.60,321.80" stroke="#15915A" stroke-width="1.6" fill="none"/>
<text transform="translate(1149.58,334.80) scale(1.150,1)" font-family='"Liberation Serif", serif' font-style="italic" font-weight="normal" font-size="24.50" fill="#15915A" stroke="#15915A" stroke-width="0.12" >t</text>
<rect x="1166.70" y="327.25" width="14.90" height="1.5" fill="#15915A"/>
<rect x="1173.40" y="320.55" width="1.5" height="14.90" fill="#15915A"/>
<text transform="translate(1188.19,334.80) scale(1.117,1)" font-family='"Liberation Serif", serif' font-style="normal" font-weight="normal" font-size="24.50" fill="#15915A" stroke="#15915A" stroke-width="0.25" >150</text>
<circle cx="1234.20" cy="321.70" r="2.3" stroke="#15915A" stroke-width="1.1" fill="none"/>
<text transform="translate(1237.15,333.51) scale(1.150,1)" font-family='"Liberation Serif", serif' font-style="normal" font-weight="normal" font-size="24.37" fill="#15915A" stroke="#15915A" stroke-width="0.25" >)</text>
<text transform="translate(1244.71,335.53) scale(0.901,1)" font-family='"Liberation Serif", serif' font-style="normal" font-weight="normal" font-size="27.43" fill="#000" stroke="#000" stroke-width="0.25" >]</text>
<line x1="771.6" y1="367" x2="771.6" y2="421" stroke="#000" stroke-width="2"/>
<line x1="771.6" y1="420.8" x2="771.6" y2="451.7" stroke="#E97D33" stroke-width="2"/>
<polygon points="771.6,359.3 767.5,367.8 775.7,367.8" fill="#000"/>
<line x1="770.6" y1="450.7" x2="856" y2="450.7" stroke="#000" stroke-width="2"/>
<polygon points="862.8,450.7 854,446 854,455.4" fill="#000"/>
<polyline points="780.5,391.6 813,391.6 833,443" stroke="#000" stroke-width="2" fill="none"/>
<line x1="847.3" y1="420.4" x2="847.3" y2="450" stroke="#15915A" stroke-width="2"/>
<text transform="translate(749.30,471.48) scale(1.100,1)" font-family='"Liberation Serif", serif' font-style="italic" font-weight="normal" font-size="14.18" fill="#E97D33" >f</text>
<text transform="translate(753.05,474.30) scale(1.182,1)" font-family='"Liberation Serif", serif' font-style="normal" font-weight="normal" font-size="11.06" fill="#E97D33" >1</text>
<rect x="764.50" y="466.60" width="9.20" height="1.0" fill="#E97D33"/>
<text transform="translate(779.50,471.48) scale(1.100,1)" font-family='"Liberation Serif", serif' font-style="italic" font-weight="normal" font-size="14.18" fill="#E97D33" >f</text>
<text transform="translate(783.94,474.30) scale(1.154,1)" font-family='"Liberation Serif", serif' font-style="normal" font-weight="normal" font-size="11.03" fill="#E97D33" >2</text>
<text transform="translate(826.70,471.48) scale(1.100,1)" font-family='"Liberation Serif", serif' font-style="italic" font-weight="normal" font-size="14.18" fill="#15915A" >f</text>
<text transform="translate(830.55,474.30) scale(1.182,1)" font-family='"Liberation Serif", serif' font-style="normal" font-weight="normal" font-size="11.06" fill="#15915A" >1</text>
<rect x="841.40" y="467.00" width="9.20" height="1.0" fill="#15915A"/>
<rect x="845.50" y="462.90" width="1.0" height="9.20" fill="#15915A"/>
<text transform="translate(857.00,471.48) scale(1.100,1)" font-family='"Liberation Serif", serif' font-style="italic" font-weight="normal" font-size="14.18" fill="#15915A" >f</text>
<text transform="translate(860.23,474.30) scale(1.380,1)" font-family='"Liberation Serif", serif' font-style="normal" font-weight="normal" font-size="11.03" fill="#15915A" >2</text>
<text transform="translate(751.92,534.60) scale(0.852,1)" font-family='"Liberation Serif", serif' font-style="italic" font-weight="normal" font-size="25.35" fill="#B22DBE" stroke="#B22DBE" stroke-width="0.12" >X</text>
<rect x="775.80" y="524.05" width="14.70" height="1.5" fill="#B22DBE"/>
<rect x="775.80" y="529.35" width="14.70" height="1.5" fill="#B22DBE"/>
<rect x="799" y="526.85" width="15.600000000000023" height="1.3" fill="#B22DBE"/>
<text transform="translate(800.62,515.60) scale(0.895,1)" font-family='"Liberation Serif", serif' font-style="italic" font-weight="normal" font-size="22.87" fill="#B22DBE" stroke="#B22DBE" stroke-width="0.12" >A</text>
<text transform="translate(800.66,550.70) scale(1.094,1)" font-family='"Liberation Serif", serif' font-style="normal" font-weight="normal" font-size="23.71" fill="#B22DBE" stroke="#B22DBE" stroke-width="0.25" >2</text>
<path d="M822.70,521.80L834.50,533.10M822.70,533.10L834.50,521.80" stroke="#B22DBE" stroke-width="1.6" fill="none"/>
<rect x="843" y="526.85" width="13.700000000000045" height="1.3" fill="#B22DBE"/>
<text transform="translate(842.43,515.60) scale(1.229,1)" font-family='"Liberation Serif", serif' font-style="normal" font-weight="normal" font-size="22.87" fill="#B22DBE" stroke="#B22DBE" stroke-width="0.25" >1</text>
<text transform="translate(843.26,550.70) scale(1.094,1)" font-family='"Liberation Serif", serif' font-style="normal" font-weight="normal" font-size="23.71" fill="#B22DBE" stroke="#B22DBE" stroke-width="0.25" >2</text>
<text transform="translate(749.48,604.80) scale(0.856,1)" font-family='"Liberation Serif", serif' font-style="italic" font-weight="normal" font-size="25.05" fill="#F5B217" stroke="#F5B217" stroke-width="0.12" >Y</text>
<rect x="772.80" y="594.45" width="14.50" height="1.5" fill="#F5B217"/>
<rect x="772.80" y="599.75" width="14.50" height="1.5" fill="#F5B217"/>
<rect x="796" y="596.85" width="15.700000000000045" height="1.3" fill="#F5B217"/>
<text transform="translate(797.24,586.50) scale(0.868,1)" font-family='"Liberation Serif", serif' font-style="italic" font-weight="normal" font-size="23.93" fill="#F5B217" stroke="#F5B217" stroke-width="0.12" >A</text>
<text transform="translate(797.59,621.20) scale(1.017,1)" font-family='"Liberation Serif", serif' font-style="normal" font-weight="normal" font-size="24.77" fill="#F5B217" stroke="#F5B217" stroke-width="0.25" >2</text>
<path d="M820.00,592.70L831.60,603.70M820.00,603.70L831.60,592.70" stroke="#F5B217" stroke-width="1.6" fill="none"/>
<rect x="841.6" y="596.8" width="14.5" height="1.4" fill="#F5B217"/>
<rect x="862.4" y="596.8" width="29.7" height="1.4" fill="#F5B217"/>
<polyline points="863,581 866,579.5 871.3,588.4 875,565.3 891.5,565.3" stroke="#F5B217" stroke-width="1.6" fill="none"/>
<text transform="translate(877.55,586.87) scale(1.119,1)" font-family='"Liberation Serif", serif' font-style="normal" font-weight="normal" font-size="23.37" fill="#F5B217" stroke="#F5B217" stroke-width="0.25" >3</text>
<text transform="translate(870.13,621.20) scale(1.078,1)" font-family='"Liberation Serif", serif' font-style="normal" font-weight="normal" font-size="24.77" fill="#F5B217" stroke="#F5B217" stroke-width="0.25" >2</text>
<path fill-rule="evenodd" fill="#231A6E" d="M1029.7,524.0 L1031.1,524.0 L1051.7,573.0 Q1053.4,576.3 1058.1,576.6 L1058.1,577.8 L1032.7,577.8 L1032.7,576.6 Q1037.8,576.3 1038.6,574.2 L1034.3,562.3 L1015.3,562.3 L1012.4,570.6 Q1011.6,576.0 1019.1,576.6 L1019.1,577.8 L1001.3,577.8 L1001.3,576.6 Q1006.6,576.0 1009.3,571.4 Z M1025.1,541.6 L1017.2,559.3 L1033.1,559.3 Z"/>
<path fill-rule="evenodd" fill="#231A6E" d="M1066.2,553.3 A15.9,12.8 0 1 0 1098,553.3 A15.9,12.8 0 1 0 1066.2,553.3 Z M1076.5,553.6 A5.6,11.0 0 1 0 1087.7,553.6 A5.6,11.0 0 1 0 1076.5,553.6 Z"/>
<rect x="1089" y="541.6" width="12.6" height="4.3" fill="#231A6E"/>
<path fill="#231A6E" d="M1071.5,562 Q1066.5,567 1067.5,572.5 Q1069,575.5 1074,576.5 L1066.5,583 Q1065.6,594.6 1084,594.7 Q1102.2,594.6 1102.2,584.2 Q1102,574.2 1090,574 L1079.5,573.8 Q1074.8,573.6 1074.6,571.2 Q1074.8,569 1078,566.2 Z M1073.2,586.2 Q1073.8,582.2 1080.5,582.0 L1087.5,582.0 Q1095,582.4 1094.8,587.2 Q1094.6,591.9 1084.0,592.0 Q1073,592 1073.2,586.2 Z" fill-rule="evenodd"/>
<text transform="translate(1107.00,577.80) scale(1.029,1)" font-family='"Liberation Serif", serif' font-style="normal" font-weight="bold" font-size="79.74" fill="#231A6E" >ı</text>
<text transform="translate(1133.86,577.94) scale(0.876,1)" font-family='"Liberation Serif", serif' font-style="normal" font-weight="bold" font-size="88.00" fill="#231A6E" >t</text>
<text transform="translate(1165.05,578.06) scale(0.972,1)" font-family='"Liberation Serif", serif' font-style="normal" font-weight="bold" font-size="79.88" fill="#231A6E" >e</text>
<text transform="translate(1204.21,577.80) scale(1.049,1)" font-family='"Liberation Serif", serif' font-style="normal" font-weight="bold" font-size="76.10" fill="#231A6E" >k</text>
<circle cx="1117.9" cy="531.6" r="6" fill="#DC2A1E"/>
<rect x="394.30" y="296.55" width="14.70" height="1.5" fill="#000"/>
<rect x="400.90" y="289.95" width="1.5" height="14.70" fill="#000"/>
<circle cx="447.00" cy="290.60" r="2.7" stroke="#000" stroke-width="1.1" fill="none"/>
<polygon points="243.50,446.30 246.10,446.30 242.20,454.80 241.30,454.20" fill="#1423D2"/>
</svg>
</body></html>
